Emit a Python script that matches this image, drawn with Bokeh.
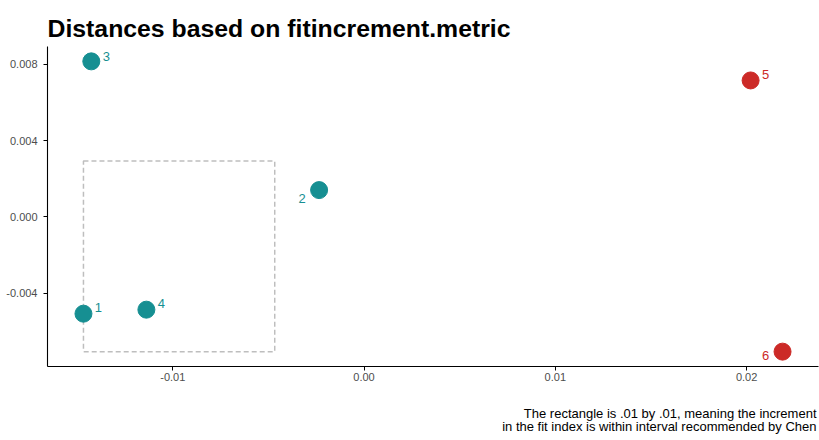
from bokeh.plotting import figure
from bokeh.models import ColumnDataSource, FixedTicker, Title
from bokeh.core.properties import value
from bokeh.embed import file_html
from bokeh.resources import INLINE

# ---- data ----
ids = ["1", "2", "3", "4", "5", "6"]
xs = [-0.01467, -0.00235, -0.01426, -0.01138, 0.02021, 0.02188]
ys = [-0.00507, 0.00141, 0.00816, -0.00486, 0.00716, -0.00706]
group = ["in", "in", "in", "in", "out", "out"]
rect_size = 0.01
x_ticks = [-0.01, 0.0, 0.01, 0.02]
x_tick_labels = ["-0.01", "0.00", "0.01", "0.02"]
y_ticks = [-0.004, 0.0, 0.004, 0.008]
y_tick_labels = ["-0.004", "0.000", "0.004", "0.008"]
title_text = "Distances based on fitincrement.metric"
caption_lines = ["The rectangle is .01 by .01, meaning the increment",
                 "in the fit index is within interval recommended by Chen"]

# ---- styles ----
palette = {"in": "#168F92", "out": "#CC2A27"}
label_dx = [15, -17, 15, 15, 15, -17]
label_dy = [-6, 8, -5, -6, -6, 4]

colors = [palette[g] for g in group]
src = ColumnDataSource(dict(x=xs, y=ys, label=ids, color=colors,
                            dx=label_dx, dy=label_dy))

p = figure(width=819, height=440, output_backend="svg", toolbar_location=None,
           x_range=(-0.01655, 0.02376), y_range=(-0.00784, 0.00894),
           min_border_left=47, min_border_right=1, min_border_top=46,
           min_border_bottom=73)
p.background_fill_color = "white"
p.border_fill_color = "white"
p.outline_line_color = None
p.grid.visible = False

p.title.text = title_text
p.title.align = "left"
p.title.text_font = "Liberation Sans"
p.title.text_font_style = "bold"
p.title.text_font_size = "24.8px"
p.title.text_color = "black"
p.title.standoff = 10

# rectangle: .01 by .01 anchored at the minimum x and y
xmin = min(xs)
ymin = min(ys)
p.quad(left=[xmin], right=[xmin + rect_size], bottom=[ymin], top=[ymin + rect_size],
       fill_alpha=0, line_color="#BEBEBE", line_width=1.5, line_dash="5 3")

p.scatter("x", "y", source=src, size=17, fill_color="color", line_color="color")
p.text("x", "y", text="label", source=src, text_color="color",
       x_offset="dx", y_offset="dy", text_align="center", text_baseline="middle",
       text_font=value("Liberation Sans"), text_font_size="13px")

for ax in (p.xaxis[0], p.yaxis[0]):
    ax.axis_line_color = "black"
    ax.axis_line_width = 1.1
    ax.major_tick_line_color = "black"
    ax.major_tick_in = 0
    ax.major_tick_out = 4
    ax.minor_tick_line_color = None
    ax.major_label_text_font = "Liberation Sans"
    ax.major_label_text_font_size = "11px"
    ax.major_label_text_color = "#4D4D4D"
p.xaxis[0].major_label_standoff = 2
p.yaxis[0].major_label_standoff = 6

p.xaxis[0].ticker = FixedTicker(ticks=x_ticks)
p.xaxis[0].major_label_overrides = dict(zip(x_ticks, x_tick_labels))
p.yaxis[0].ticker = FixedTicker(ticks=y_ticks)
p.yaxis[0].major_label_overrides = dict(zip(y_ticks, y_tick_labels))

cap1 = Title(text=caption_lines[0], align="right", text_font="Liberation Sans",
             text_font_size="13px", text_font_style="normal", text_color="black",
             standoff=40, vertical_align="bottom", offset=2)
cap2 = Title(text=caption_lines[1], align="right", text_font="Liberation Sans",
             text_font_size="13px", text_font_style="normal", text_color="black",
             standoff=-44, vertical_align="top", offset=2)
p.add_layout(cap1, "below")
p.add_layout(cap2, "below")

open("out.html", "w").write(file_html(p, INLINE))
